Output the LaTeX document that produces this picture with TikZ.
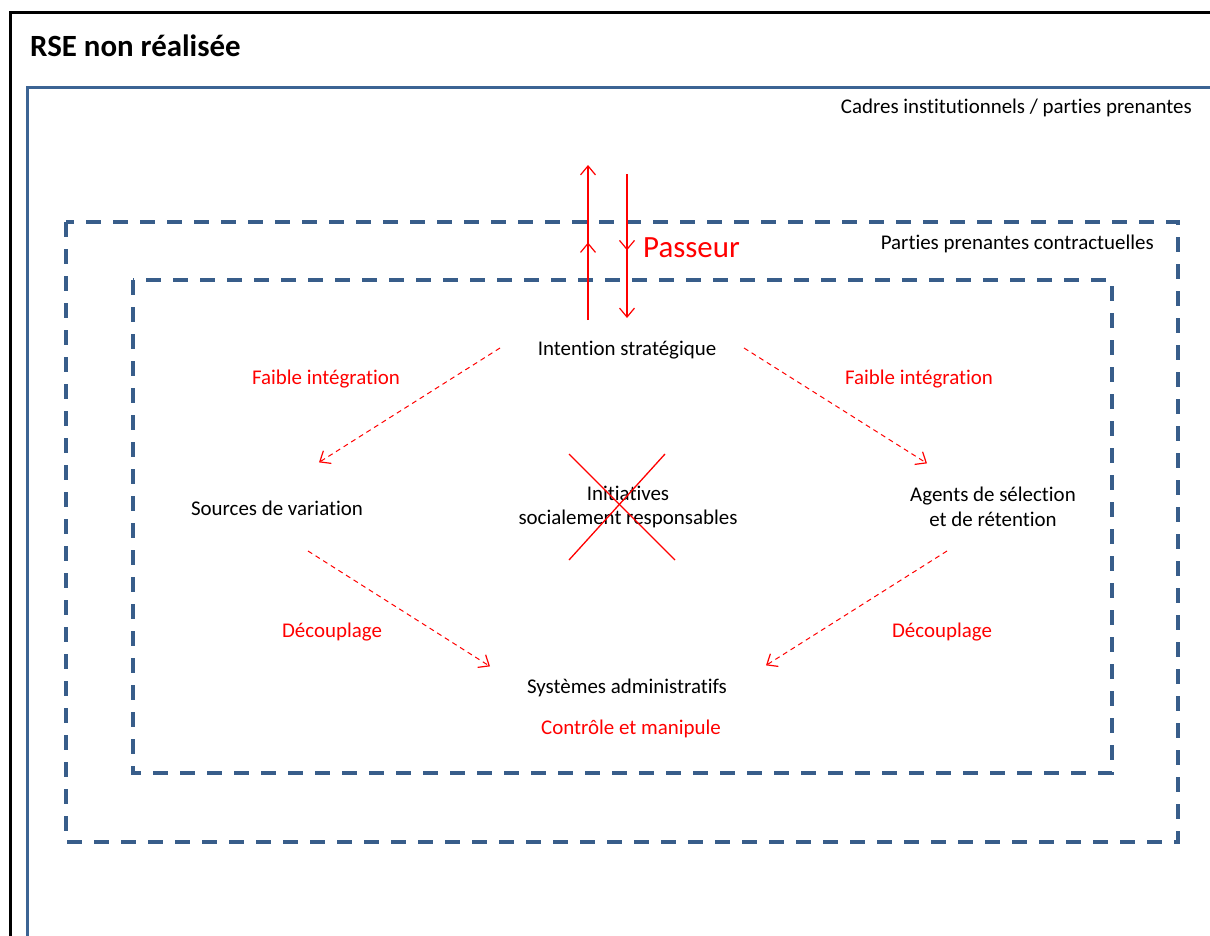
\documentclass[tikz,border=0pt]{standalone}
\usepackage{fontspec}
\setmainfont{Carlito}[Ligatures={NoCommon}]
\usetikzlibrary{arrows.meta,decorations.markings}
\definecolor{cadreblue}{HTML}{3C6494}
\definecolor{pointille}{HTML}{385D8A}
\tikzset{
  txt/.style={font=\fontsize{21}{25}\selectfont, align=center, inner sep=0pt, yshift=-2bp},
  rtxt/.style={txt, text=red},
  barb/.tip={Straight Barb[length=9bp,width=15bp,line width=1.2bp]},
  flux/.style={red, line width=1bp, dash pattern=on 5bp off 4bp, -{barb[sep]}},
  passage/.style={red, line width=2bp, -{barb}, postaction={decorate},
    decoration={markings, mark=at position #1 with {\arrow{barb}}}},
  cadre/.style={pointille, line width=3.5bp, dash pattern=on 15bp off 12bp}
}
\begin{document}
\begin{tikzpicture}[x=1bp,y=-1bp]
  \useasboundingbox (0,0) rectangle (1210,936);
  % frames
  \draw[line width=3bp] (10,950) -- (10,12) -- (1220,12);
  \draw[cadreblue, line width=3bp] (27,950) -- (27,87) -- (1220,87);
  \draw[cadre] (66,222) rectangle (1178,842);
  \draw[cadre] (133,280) rectangle (1112,773);
  % labels
  \node[font=\bfseries\fontsize{31}{36}\selectfont, anchor=west, inner sep=0pt] (titre) at (30,46) {RSE non réalisée};
  \node[txt, anchor=east] (cadres) at (1192,106) {Cadres institutionnels / parties prenantes};
  \node[txt, anchor=east] (contract) at (1154,242) {Parties prenantes contractuelles};
  \node[rtxt, font=\fontsize{31}{36}\selectfont, anchor=west] (passeur) at (643,246) {Passeur};
  \node[txt] (intention) at (627,348) {Intention stratégique};
  \node[rtxt] (faibleG) at (326,377) {Faible intégration};
  \node[rtxt] (faibleD) at (919,377) {Faible intégration};
  \node[txt] (sources) at (277,506) {Sources de variation};
  \node[txt] (initiatives) at (628,505) {Initiatives\\socialement responsables};
  \node[txt] (agents) at (993,505) {Agents de sélection\\et de rétention};
  \node[rtxt] (decouplG) at (332,630) {Découplage};
  \node[rtxt] (decouplD) at (942,630) {Découplage};
  \node[txt] (systemes) at (627,686) {Systèmes administratifs};
  \node[rtxt] (controle) at (631,727) {Contrôle et manipule};
  % arrow ends
  \coordinate (monteA) at (588,320);
  \coordinate (monteB) at (588,165);
  \coordinate (descA) at (627,174);
  \coordinate (descB) at (627,318);
  \coordinate (intG) at (500,348);
  \coordinate (intD) at (744,348);
  \coordinate (srcH) at (318,463);
  \coordinate (srcB) at (308,551);
  \coordinate (agtH) at (928,464);
  \coordinate (agtB) at (947,551);
  \coordinate (sysG) at (491,667);
  \coordinate (sysD) at (765,666);
  \draw[passage=0.5] (monteA) -- (monteB);
  \draw[passage=0.53] (descA) -- (descB);
  \draw[flux] (intG) -- (srcH);
  \draw[flux] (intD) -- (agtH);
  \draw[flux] (srcB) -- (sysG);
  \draw[flux] (agtB) -- (sysD);
  % cross over the initiatives
  \draw[red, line width=1.3bp] (569,454) -- (675,560);
  \draw[red, line width=1.3bp] (665,454) -- (569,560);
\end{tikzpicture}
\end{document}
